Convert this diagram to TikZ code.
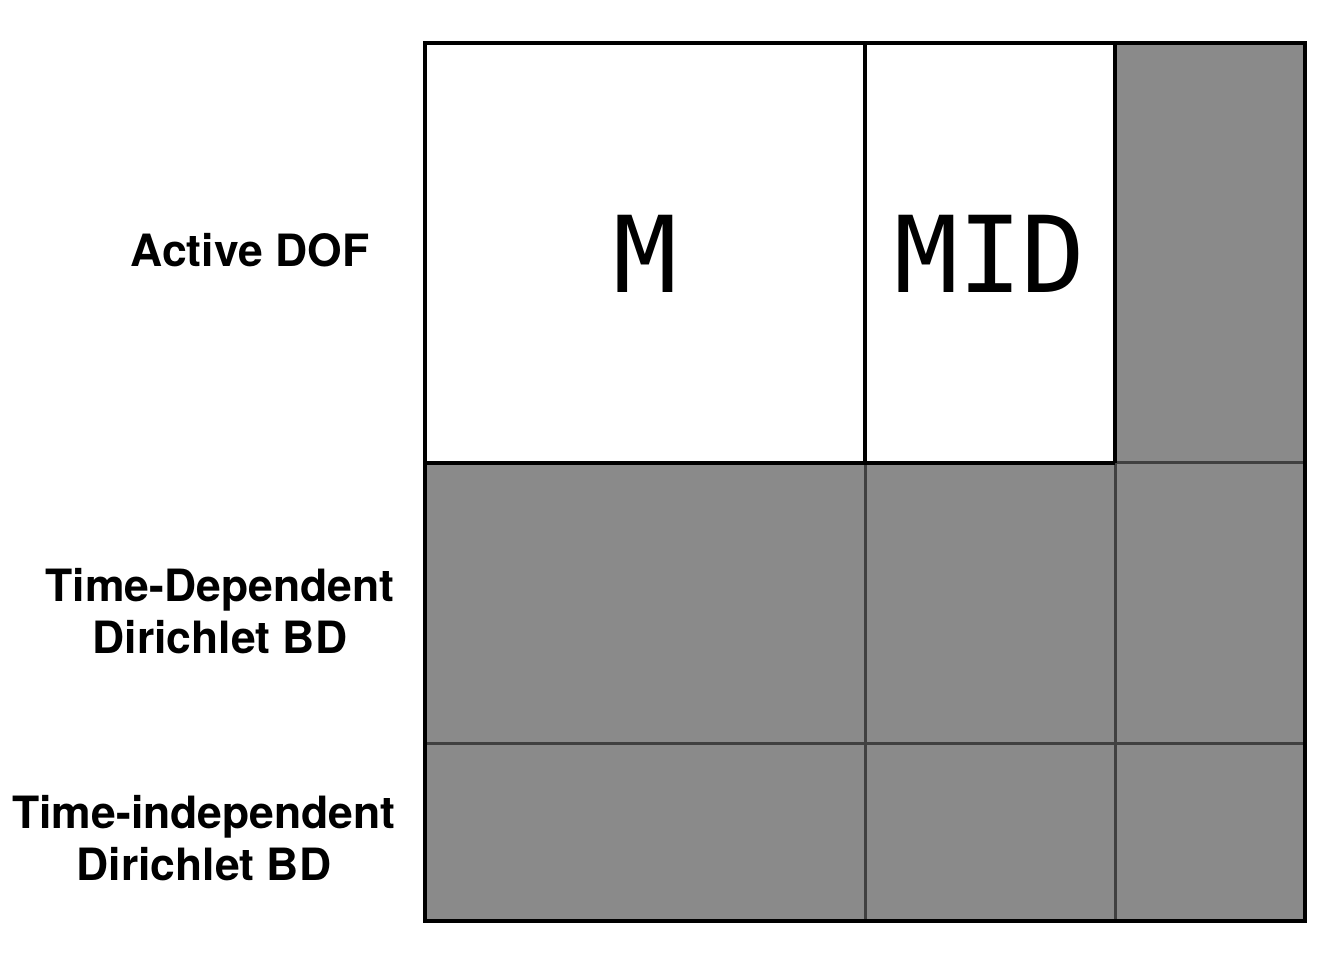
\documentclass[tikz,border=0pt]{standalone}
\usepackage{fontspec}
\setmainfont{TeX Gyre Heros}
\newfontfamily\blockfont{DejaVu Sans Mono}
\begin{document}
\begin{tikzpicture}[x=1pt,y=1pt,
  rowlabel/.style={font=\fontsize{44.5}{52}\selectfont\bfseries, align=center, inner sep=0pt},
  blocklabel/.style={font=\blockfont\fontsize{106}{106}\selectfont, inner sep=0pt},
  grayline/.style={draw=black!75, line width=3pt},
  blackline/.style={draw=black, line width=3.5pt},
  cellfill/.style={fill=black!46}]
\useasboundingbox (0,0) rectangle (1336,970);
% corner coordinates of the block matrix
\coordinate (tl) at (425,927);
\coordinate (br) at (1305,49);
% shaded (zero) blocks
\fill[cellfill] (tl) rectangle (br);
\fill[white] (425,927) rectangle (1115,507);
% separators inside the shaded region
\draw[grayline] (865,507) -- (865,49);
\draw[grayline] (1115,507) -- (1115,49);
\draw[grayline] (425,227) -- (1305,227);
\draw[grayline] (1115,507) -- (1305,507);
% borders of the active blocks
\draw[blackline] (865,927) -- (865,507);
\draw[blackline] (1115,927) -- (1115,507);
\draw[blackline] (425,507) -- (1115,507);
\draw[black, line width=4pt] (tl) rectangle (br);
% block names
\node[blocklabel] (m) at (645,716) {M};
\node[blocklabel] (mid) at (990,716) {MID};
% row labels
\node[rowlabel] (active) at (250,720) {Active DOF};
\node[rowlabel] (tdep) at (220,359) {Time-Dependent\\Dirichlet BD};
\node[rowlabel] (tindep) at (204,132) {Time-independent\\Dirichlet BD};
\end{tikzpicture}
\end{document}
